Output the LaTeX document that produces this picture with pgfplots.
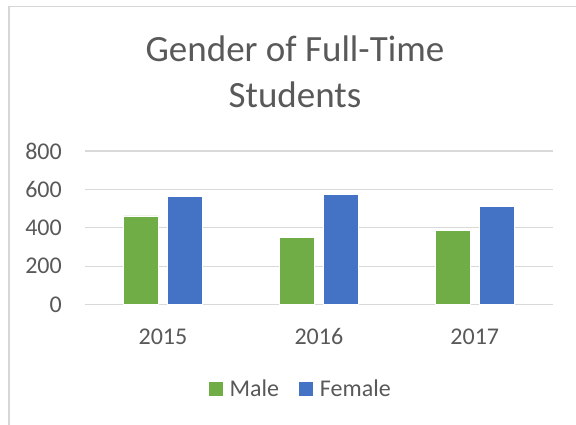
\documentclass[border=0pt]{standalone}
\usepackage{fontspec}
\setmainfont{Carlito}
\usepackage{pgfplots}
\pgfplotsset{compat=1.18}
\definecolor{txtgray}{HTML}{595959}
\definecolor{gridgray}{HTML}{D9D9D9}
\definecolor{bordergray}{HTML}{D6D6D6}
\definecolor{malegreen}{HTML}{70AD47}
\definecolor{femaleblue}{HTML}{4472C4}
\begin{document}
\begin{tikzpicture}[x=1pt,y=1pt]
\path[use as bounding box, fill=white] (0,0) rectangle (576,425);
\draw[bordergray, line width=1.5pt] (9,-2) -- (9,418.3) -- (578,418.3);
\node[anchor=base, inner sep=0pt, text=txtgray, font=\fontsize{37}{44}\selectfont] at (295,363.5) {Gender of Full-Time};
\node[anchor=base, inner sep=0pt, text=txtgray, font=\fontsize{37}{44}\selectfont] at (295,317) {Students};
\begin{axis}[
  at={(85pt,120.3pt)}, anchor=south west,
  scale only axis, width=467.7pt, height=153.7pt,
  xmin=-0.5, xmax=2.5, ymin=0, ymax=800,
  ytick={0,200,400,600,800},
  xtick={0,1,2}, xticklabels={2015,2016,2017},
  axis line style={draw=none},
  major tick length=0pt,
  ymajorgrids,
  grid style={color=gridgray, line width=1.2pt},
  /pgf/number format/assume math mode=true,
  ticklabel style={text=txtgray, font=\fontsize{24}{28}\selectfont, inner sep=0pt},
  yticklabel style={anchor=east, xshift=-23pt},
  xticklabel style={anchor=north, yshift=-23.6pt},
  ybar=9.5pt, bar width=34.5pt,
  clip=false,
  legend columns=2,
  legend style={at={(0.459,-0.5465)}, anchor=center, draw=none, fill=none,
    font=\fontsize{24}{28}\selectfont, text=txtgray, inner sep=0pt,
    nodes={inner sep=0pt},
    /tikz/every even column/.append style={column sep=19.7pt}},
  legend image code/.code={\fill[#1, draw=none] (0pt,-7pt) rectangle (14pt,7pt); \path (20.7pt,0pt);},
]
\addplot[fill=malegreen, draw=white, line width=0.8pt] coordinates {(0,462) (1,351) (2,385)};
\addplot[fill=femaleblue, draw=white, line width=0.8pt] coordinates {(0,562) (1,575) (2,512)};
\legend{Male,Female}
\end{axis}
\end{tikzpicture}
\end{document}
